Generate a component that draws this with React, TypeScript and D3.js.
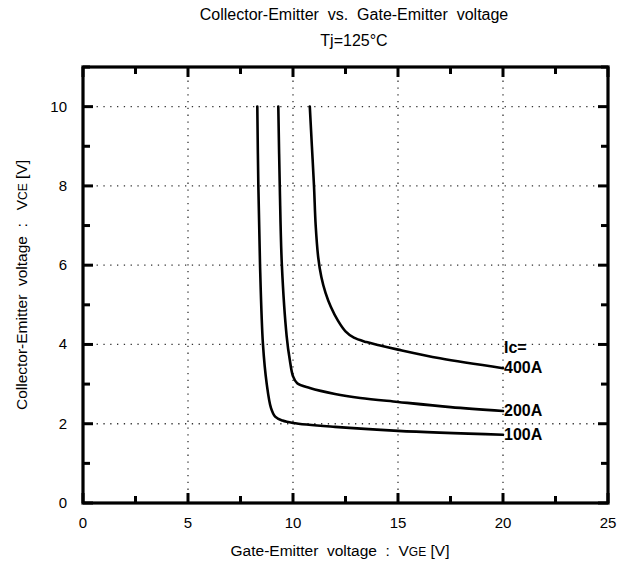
import * as d3 from 'd3';

const W = 633, H = 564;
const M = { top: 67, right: 25, bottom: 61, left: 83 };
const IW = W - M.left - M.right;
const IH = H - M.top - M.bottom;

// [VGE, VCE]
const IC_100: [number, number][] = [
  [8.3, 10], [8.35, 8], [8.43, 6], [8.57, 4], [8.75, 3], [8.95, 2.4], [9.15, 2.18],
  [9.5, 2.08], [10, 2.02], [12, 1.92], [15, 1.82], [20, 1.72],
];
const IC_200: [number, number][] = [
  [9.3, 10], [9.37, 8], [9.47, 6], [9.7, 4.2], [9.85, 3.6], [10.0, 3.2], [10.2, 3.02],
  [10.8, 2.9], [12, 2.75], [13.2, 2.65], [15, 2.55], [17.5, 2.42], [20, 2.32],
];
const IC_400: [number, number][] = [
  [10.8, 10], [10.9, 9], [11.0, 8], [11.08, 7], [11.2, 6.2], [11.35, 5.7], [11.55, 5.3],
  [11.8, 4.95], [12.14, 4.6], [12.5, 4.33], [12.9, 4.17], [13.5, 4.06], [14.1, 3.98],
  [15, 3.87], [17, 3.65], [20, 3.4],
];
const CURVES = [IC_100, IC_200, IC_400];
const CURVE_LABELS = ['100A', '200A', '400A'];

const X_TICKS = [0, 5, 10, 15, 20, 25];
const X_MINOR = [2.5, 7.5, 12.5, 17.5, 22.5];
const Y_TICKS = [0, 2, 4, 6, 8, 10];
const Y_MINOR = [1, 3, 5, 7, 9, 11];

const FONT = 'Liberation Sans, Arial, sans-serif';
const NARROW = '"Liberation Sans Narrow", "Arial Narrow", Liberation Sans, sans-serif';

export default function App() {
  const x = d3.scaleLinear().domain([0, 25]).range([M.left, M.left + IW]);
  const y = d3.scaleLinear().domain([0, 11]).range([M.top + IH, M.top]);
  const line = d3.line<[number, number]>()
    .x(d => x(d[0])).y(d => y(d[1]))
    .curve(d3.curveCatmullRom.alpha(0.5));

  const x0 = M.left, x1 = M.left + IW, y0 = M.top + IH, y1 = M.top;

  // inward tick marks on all four sides
  const ticks: { x1: number; y1: number; x2: number; y2: number }[] = [];
  X_TICKS.forEach(t => {
    ticks.push({ x1: x(t), y1: y0, x2: x(t), y2: y0 - 10 });
    ticks.push({ x1: x(t), y1: y1, x2: x(t), y2: y1 + 10 });
  });
  X_MINOR.forEach(t => {
    ticks.push({ x1: x(t), y1: y0, x2: x(t), y2: y0 - 7 });
    ticks.push({ x1: x(t), y1: y1, x2: x(t), y2: y1 + 7 });
  });
  Y_TICKS.forEach(t => {
    ticks.push({ x1: x0, y1: y(t), x2: x0 + 10, y2: y(t) });
    ticks.push({ x1: x1, y1: y(t), x2: x1 - 10, y2: y(t) });
  });
  Y_MINOR.forEach(t => {
    ticks.push({ x1: x0, y1: y(t), x2: x0 + 7, y2: y(t) });
    ticks.push({ x1: x1, y1: y(t), x2: x1 - 7, y2: y(t) });
  });

  return (
    <svg width={W} height={H} style={{ position: 'absolute', left: 0, top: 0, background: '#fff' }} fontFamily={FONT}>
      {/* title */}
      <text x={354} y={20} textAnchor="middle" fontSize={16} style={{ whiteSpace: 'pre' }}>
        {'Collector-Emitter  vs.  Gate-Emitter  voltage'}
      </text>
      <text x={354} y={46} textAnchor="middle" fontSize={16}>Tj=125°C</text>

      {/* grid */}
      {X_TICKS.filter(t => t > 0 && t < 25).map(t => (
        <line key={'gx' + t} x1={x(t)} x2={x(t)} y1={y1} y2={y0} stroke="#333" strokeWidth={1.3} strokeDasharray="1.3 5.5" />
      ))}
      {Y_TICKS.filter(t => t > 0).map(t => (
        <line key={'gy' + t} x1={x0} x2={x1} y1={y(t)} y2={y(t)} stroke="#333" strokeWidth={1.3} strokeDasharray="1.3 5.5" />
      ))}

      {ticks.map((d, i) => (
        <line key={'t' + i} x1={d.x1} y1={d.y1} x2={d.x2} y2={d.y2} stroke="#000" strokeWidth={3} />
      ))}

      {/* frame */}
      <rect x={x0} y={y1} width={IW} height={IH} fill="none" stroke="#000" strokeWidth={3.2} />

      {/* tick labels */}
      {X_TICKS.map(t => (
        <text key={'lx' + t} x={x(t)} y={528} textAnchor="middle" fontSize={15}>{t}</text>
      ))}
      {Y_TICKS.map(t => (
        <text key={'ly' + t} x={x0 - 16} y={y(t) + 5} textAnchor="end" fontSize={15}>{t}</text>
      ))}

      {/* axis titles */}
      <text x={340} y={556} textAnchor="middle" fontSize={15.5} style={{ whiteSpace: 'pre' }}>
        {'Gate-Emitter  voltage  :  V'}<tspan fontSize={12}>GE</tspan>{' [V]'}
      </text>
      <text transform={`translate(27,${(y0 + y1) / 2}) rotate(-90)`} textAnchor="middle" fontSize={15.5} style={{ whiteSpace: 'pre' }}>
        {'Collector-Emitter  voltage  :   V'}<tspan fontSize={12}>CE</tspan>{' [V]'}
      </text>

      {/* curves */}
      {CURVES.map((c, i) => (
        <path key={'c' + i} d={line(c) ?? ''} fill="none" stroke="#000" strokeWidth={2.6} strokeLinejoin="round" strokeLinecap="round" />
      ))}

      {/* curve labels */}
      <g fontFamily={NARROW} fontWeight="bold" fontSize={16}>
        <text x={x(20) + 1} y={y(IC_400[IC_400.length - 1][1]) - 15}>Ic=</text>
        {CURVES.map((c, i) => (
          <text key={'l' + i} x={x(20) + 1} y={y(c[c.length - 1][1]) + 5}>{CURVE_LABELS[i]}</text>
        ))}
      </g>
    </svg>
  );
}
